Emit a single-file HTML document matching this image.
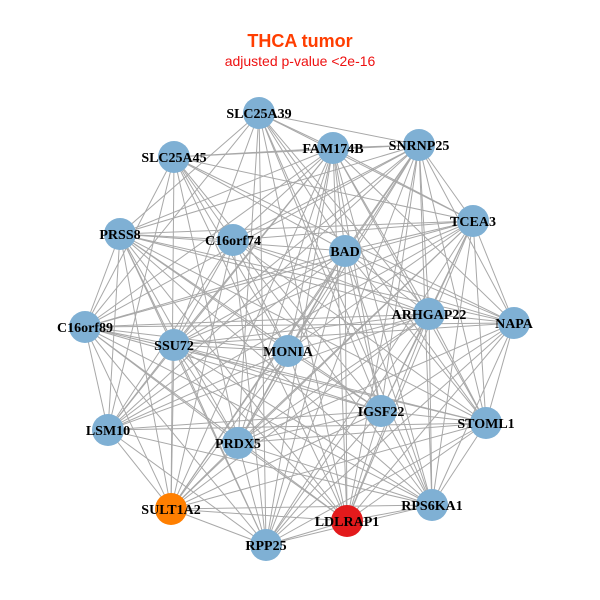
<!DOCTYPE html>
<html><head><meta charset="utf-8"><style>
html,body{margin:0;padding:0;background:#fff;width:600px;height:600px;overflow:hidden}
</style></head><body>
<svg id="s" width="600" height="600" xmlns="http://www.w3.org/2000/svg">
<text x="300" y="47" text-anchor="middle" font-family="Liberation Sans, sans-serif" font-weight="bold" font-size="18" fill="#ff3d00">THCA tumor</text>
<text x="300" y="66" text-anchor="middle" font-family="Liberation Sans, sans-serif" font-size="14" fill="#ee1111">adjusted p-value &lt;2e-16</text>
<g id="edges" stroke="#a8a8a8" stroke-width="1"></g>
<g id="nodes"></g>
<g id="labels" font-family="Liberation Serif, serif" font-weight="bold" font-size="14" fill="#000" text-anchor="middle"></g>
</svg>
<script>
var N=[["SLC25A39",259,113],["FAM174B",333,148],["SNRNP25",419,145],["SLC25A45",174,157],["TCEA3",473,221],["PRSS8",120,234],["C16orf74",233,240],["BAD",345,251],["ARHGAP22",429,314],["NAPA",514,323],["C16orf89",85,327],["SSU72",174,345],["MONIA",288,351],["IGSF22",381,411],["STOML1",486,423],["LSM10",108,430],["PRDX5",238,443],["RPS6KA1",432,505],["SULT1A2",171,509,"#ff7f00"],["LDLRAP1",347,521,"#e31a1c"],["RPP25",266,545]];
var ns="http://www.w3.org/2000/svg";
var E=document.getElementById("edges"),G=document.getElementById("nodes"),L=document.getElementById("labels");
for(var i=0;i<N.length;i++)for(var j=i+1;j<N.length;j++){
 if((i*7+j*3)%9==0)continue;
 var l=document.createElementNS(ns,"line");
 l.setAttribute("x1",N[i][1]);l.setAttribute("y1",N[i][2]);l.setAttribute("x2",N[j][1]);l.setAttribute("y2",N[j][2]);E.appendChild(l);}
N.forEach(function(n){
 var c=document.createElementNS(ns,"circle");c.setAttribute("cx",n[1]);c.setAttribute("cy",n[2]);c.setAttribute("r",16);c.setAttribute("fill",n[3]||"#7fb0d4");G.appendChild(c);
 var t=document.createElementNS(ns,"text");t.setAttribute("x",n[1]);t.setAttribute("y",n[2]+5);t.textContent=n[0];L.appendChild(t);
});
</script>
</body></html>
